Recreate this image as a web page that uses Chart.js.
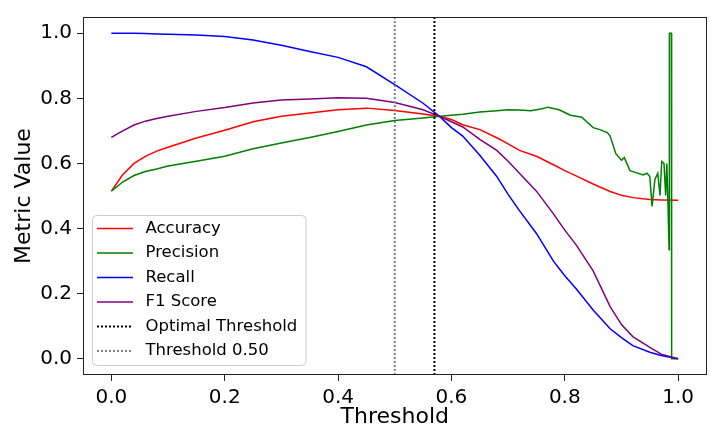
<!DOCTYPE html>
<html>
<head>
<meta charset="utf-8">
<script src="https://cdn.jsdelivr.net/npm/chart.js@4.4.1/dist/chart.umd.min.js"></script>
<style>
  html, body { margin: 0; padding: 0; background: #fff; }
  #wrap { width: 722px; height: 430px; }
</style>
</head>
<body>
<div id="wrap"><canvas id="chart" width="722" height="430"></canvas></div>
<script>
// thresholds shared by accuracy / recall / f1
const thresholds = [0, 0.02, 0.04, 0.06, 0.08, 0.1, 0.15, 0.2, 0.25, 0.3, 0.35, 0.4, 0.45, 0.5, 0.55, 0.58,
    0.6, 0.62, 0.65, 0.68, 0.7, 0.72, 0.75, 0.78, 0.8, 0.82, 0.85, 0.88, 0.9, 0.92, 0.95, 0.97, 1.0];
const accuracy = [0.515, 0.565, 0.600, 0.622, 0.638, 0.650, 0.678, 0.702, 0.728, 0.745, 0.755, 0.765, 0.770, 0.763, 0.752, 0.744,
    0.735, 0.719, 0.704, 0.679, 0.660, 0.640, 0.622, 0.596, 0.578, 0.562, 0.537, 0.514, 0.502, 0.495, 0.489, 0.488, 0.487];
const recall = [1.0, 1.0, 1.0, 0.999, 0.998, 0.997, 0.995, 0.99, 0.979, 0.963, 0.944, 0.926, 0.897, 0.842, 0.785, 0.743,
    0.71, 0.684, 0.625, 0.56, 0.505, 0.455, 0.385, 0.30, 0.255, 0.215, 0.15, 0.092, 0.065, 0.04, 0.02, 0.01, 0.0];
const f1Score = [0.68, 0.70, 0.718, 0.73, 0.738, 0.745, 0.76, 0.772, 0.786, 0.795, 0.798, 0.802, 0.80, 0.787, 0.765, 0.744,
    0.728, 0.712, 0.674, 0.64, 0.607, 0.57, 0.515, 0.445, 0.395, 0.35, 0.27, 0.16, 0.105, 0.068, 0.035, 0.014, 0.0];

// precision is noisy near the end, so it gets its own thresholds
const precisionThresholds = [0, 0.02, 0.04, 0.06, 0.08, 0.1, 0.15, 0.2, 0.25, 0.3, 0.35, 0.4, 0.45, 0.5, 0.55,
    0.58, 0.6, 0.62, 0.65, 0.68, 0.7, 0.72, 0.74, 0.76, 0.77, 0.79, 0.81, 0.83, 0.85, 0.862, 0.875, 0.88, 0.89, 0.9, 0.905,
    0.915, 0.927, 0.938, 0.945, 0.95, 0.954, 0.959, 0.964, 0.968, 0.971, 0.975, 0.978, 0.98, 0.982, 0.984, 0.9845, 0.988, 0.9885, 1.0];
const precision = [0.515, 0.543, 0.563, 0.575, 0.583, 0.592, 0.607, 0.622, 0.645, 0.663, 0.68, 0.698, 0.718, 0.732, 0.740,
    0.745, 0.748, 0.751, 0.758, 0.762, 0.765, 0.764, 0.762, 0.768, 0.773, 0.765, 0.748, 0.742, 0.71, 0.704, 0.695, 0.684, 0.63, 0.61, 0.618,
    0.578, 0.571, 0.565, 0.57, 0.56, 0.468, 0.551, 0.57, 0.502, 0.606, 0.6, 0.502, 0.6, 0.477, 0.335, 1.0, 1.0, 0.0, 0.0];

const optimalThreshold = 0.57;
const defaultThreshold = 0.5;

const xTicks = [0, 0.2, 0.4, 0.6, 0.8, 1.0];
const yTicks = [0, 0.2, 0.4, 0.6, 0.8, 1.0];
const axisMin = -0.05;
const axisMax = 1.05;

const toPoints = (xs, ys) => xs.map((x, i) => ({ x: x, y: ys[i] }));
const vLine = t => [{ x: t, y: axisMin }, { x: t, y: axisMax }];

const FONT = 'DejaVu Sans';

// рамка со всех четырёх сторон, как у matplotlib
const frame = {
    id: 'frame',
    afterDatasetsDraw(chart) {
        const { ctx, chartArea: a } = chart;
        ctx.save();
        ctx.strokeStyle = '#222';
        ctx.lineWidth = 1;
        const l = Math.round(a.left) + 0.5, t = Math.round(a.top) + 0.5;
        const r = Math.round(a.right) - 0.5, b = Math.round(a.bottom) - 0.5;
        ctx.strokeRect(l, t, r - l, b - t);
        ctx.restore();
    }
};

// легенда внутри области графика, слева снизу
const legendBox = {
    id: 'legendBox',
    afterDraw(chart) {
        const ctx = chart.ctx;
        ctx.save();
        ctx.beginPath();
        ctx.roundRect(92.5, 215.5, 213.5, 150, 4);
        ctx.fillStyle = 'rgba(255,255,255,0.8)';
        ctx.fill();
        ctx.strokeStyle = '#cccccc';
        ctx.lineWidth = 1;
        ctx.stroke();
        ctx.font = '16.5px "' + FONT + '"';
        ctx.textBaseline = 'middle';
        chart.data.datasets.forEach((ds, i) => {
            const ry = 228.5 + i * 24.5;
            ctx.beginPath();
            ctx.setLineDash(ds.borderDash || []);
            ctx.strokeStyle = ds.borderColor;
            ctx.lineWidth = ds.borderWidth;
            ctx.moveTo(97, ry);
            ctx.lineTo(133, ry);
            ctx.stroke();
            ctx.setLineDash([]);
            ctx.fillStyle = '#000';
            ctx.fillText(ds.label, 145.5, ry);
        });
        ctx.restore();
    }
};

const line = (label, data, color, order, extra) => Object.assign({
    label: label,
    data: data,
    borderColor: color,
    backgroundColor: color,
    borderWidth: 1.5,
    pointRadius: 0,
    tension: 0,
    fill: false,
    order: order
}, extra || {});

new Chart(document.getElementById('chart').getContext('2d'), {
    type: 'line',
    data: {
        datasets: [
            line('Accuracy', toPoints(thresholds, accuracy), '#ff0000', 5),
            line('Precision', toPoints(precisionThresholds, precision), '#008000', 4),
            line('Recall', toPoints(thresholds, recall), '#0000ff', 3),
            line('F1 Score', toPoints(thresholds, f1Score), '#800080', 2),
            line('Optimal Threshold', vLine(optimalThreshold), '#000000', 1, { borderDash: [2, 2], borderWidth: 2 }),
            line('Threshold 0.50', vLine(defaultThreshold), '#808080', 0, { borderDash: [2, 2], borderWidth: 2 })
        ]
    },
    options: {
        responsive: false,
        animation: false,
        layout: { padding: { top: 3, right: 15.5, bottom: 0, left: 0 } },
        plugins: {
            legend: { display: false },
            tooltip: { enabled: false }
        },
        scales: {
            x: {
                type: 'linear',
                min: axisMin,
                max: axisMax,
                afterBuildTicks: s => { s.ticks = xTicks.map(v => ({ value: v })); },
                afterFit: s => { s.height = 55; },
                ticks: {
                    callback: v => v.toFixed(1),
                    font: { family: FONT, size: 20 },
                    color: '#000',
                    padding: 5,
                    maxRotation: 0,
                    autoSkip: false
                },
                grid: { drawOnChartArea: false, drawTicks: true, tickLength: 6, color: '#222' },
                border: { display: false },
                title: {
                    display: true,
                    text: 'Threshold',
                    font: { family: FONT, size: 22 },
                    color: '#000',
                    padding: { top: 0, bottom: 0 }
                }
            },
            y: {
                type: 'linear',
                min: axisMin,
                max: axisMax,
                afterBuildTicks: s => { s.ticks = yTicks.map(v => ({ value: v })); },
                afterFit: s => { s.width = 83; },
                ticks: {
                    callback: v => v.toFixed(1),
                    font: { family: FONT, size: 20 },
                    color: '#000',
                    padding: 5,
                    autoSkip: false
                },
                grid: { drawOnChartArea: false, drawTicks: true, tickLength: 6, color: '#222' },
                border: { display: false },
                title: {
                    display: true,
                    text: 'Metric Value',
                    font: { family: FONT, size: 22 },
                    color: '#000',
                    padding: { top: 11, bottom: 0 }
                }
            }
        }
    },
    plugins: [frame, legendBox]
});
</script>
</body>
</html>
